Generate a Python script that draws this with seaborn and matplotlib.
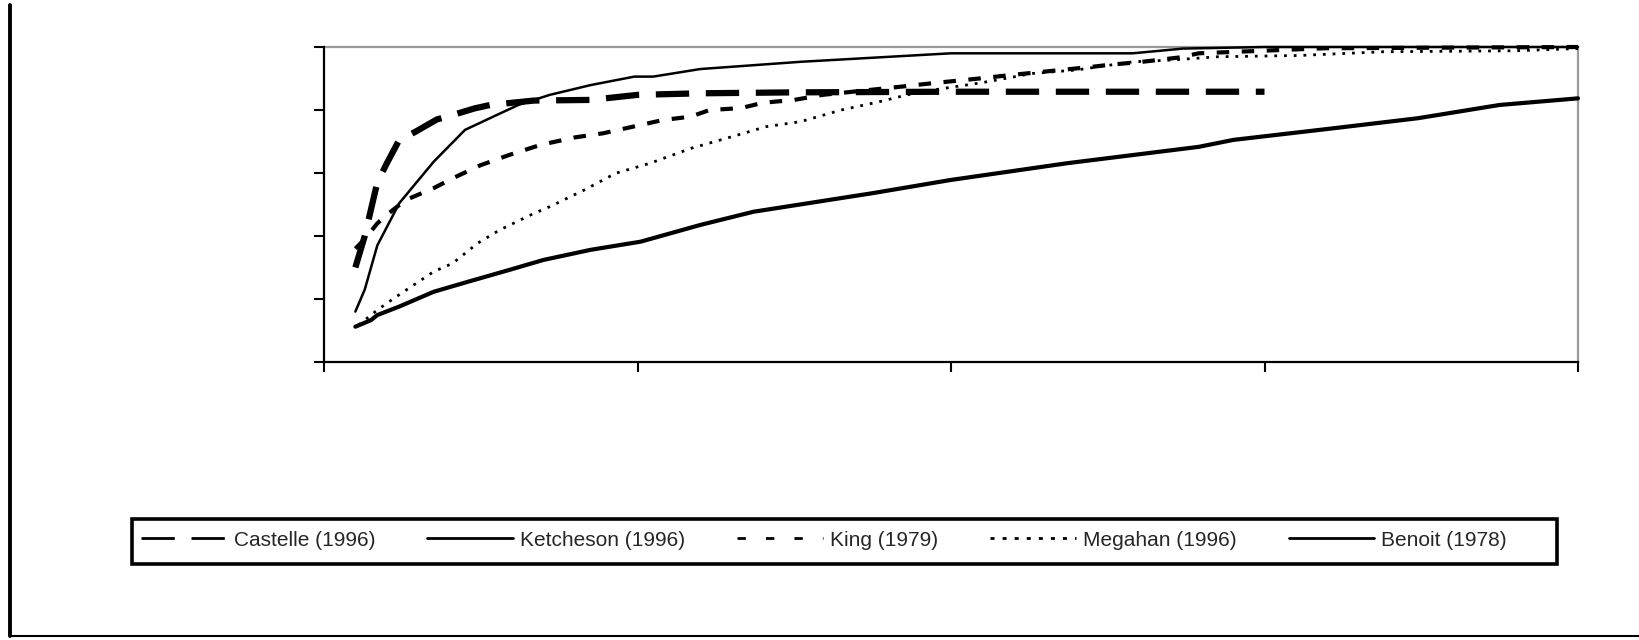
import matplotlib.pyplot as plt
from matplotlib.lines import Line2D
from matplotlib.patches import Rectangle
import pandas as pd
import seaborn as sns

# values (x: 0-40, y: 0-100, no tick labels shown)
castelle_x = [1.0, 1.3, 1.7, 2.0, 2.4, 2.9, 3.6, 4.1, 4.8, 5.3, 6.7, 8.5, 10.0, 12.0, 15.0, 20.0, 25.0, 30.0]
castelle_y = [30, 40, 57, 63, 70.5, 73, 77, 78.4, 80.5, 81.6, 83, 83.2, 84.8, 85.3, 85.6, 85.8, 85.8, 85.8]

ketcheson_x = [1.0, 1.3, 1.7, 2.4, 3.5, 4.5, 5.4, 6.2, 7.2, 8.5, 9.9, 10.5, 12.0, 15.2, 20.0, 25.8, 27.4, 30.0, 40.0]
ketcheson_y = [16, 23, 37, 50.4, 63.6, 73.7, 77.9, 81.6, 84.8, 87.9, 90.6, 90.6, 93, 95.3, 98, 98, 99.5, 100, 100]

king_x = [1.0, 1.3, 1.7, 2.0, 2.6, 3.5, 4.1, 5.0, 5.9, 6.9, 8.0, 8.9, 9.4, 10.8, 11.7, 12.3, 13.3, 14.0, 15.0,
          15.9, 18.4, 19.4, 20.9, 21.9, 22.6, 24.5, 25.0, 26.1, 27.3, 27.9, 31.9, 40.0]
king_y = [36, 39, 44, 46.7, 51.4, 55.2, 58.3, 62.5, 65.7, 68.9, 71.3, 72.6, 73.7, 76.8, 77.9, 80, 80.6, 82.3, 83.2,
          84.8, 87.4, 88.5, 90, 91.1, 91.8, 93.7, 94.3, 95.3, 96.7, 98, 99.6, 100]

megahan_x = [1.1, 1.7, 2.3, 3.5, 4.1, 4.9, 5.6, 6.7, 7.2, 8.3, 9.3, 10.4, 11.7, 13.0, 14.1, 15.2, 16.5, 17.7, 18.6,
             19.4, 21.0, 22.6, 24.0, 25.8, 27.1, 28.5, 31.1, 33.8, 38.0, 40.0]
megahan_y = [11.7, 16.5, 20.7, 28.7, 31.3, 37.7, 41.9, 47.2, 49.3, 54.6, 59.9, 63.1, 67.8, 71.5, 74.7, 76.3, 80, 82.6, 84.8,
             86.3, 88.7, 91.6, 92.7, 95.3, 95.9, 96.9, 97.3, 98.5, 98.8, 99.5]

benoit_x = [1.0, 1.5, 1.7, 2.4, 3.5, 4.6, 5.9, 7.0, 8.5, 10.1, 12.0, 13.7, 17.5, 20.0, 23.7, 25.8, 27.9, 29.0, 32.2,
            34.9, 37.5, 40.0]
benoit_y = [11.2, 13.3, 14.9, 17.6, 22.3, 25.5, 29.2, 32.4, 35.6, 38.2, 43.5, 47.7, 53.6, 57.8, 63.1, 65.7, 68.3, 70.5, 74.2,
            77.4, 81.6, 83.7]

labels = ["Castelle (1996)", "Ketcheson (1996)", "King (1979)", "Megahan (1996)", "Benoit (1978)"]
x_ticks = [0, 10, 20, 30, 40]
y_ticks = [0, 20, 40, 60, 80, 100]

sns.set_theme(style="white")
plt.rcParams["font.family"] = ["Liberation Sans", "DejaVu Sans"]
plt.rcParams["lines.scale_dashes"] = False

W, H = 1639, 640
fig = plt.figure(figsize=(W / 100, H / 100), dpi=100)
ax = fig.add_axes([324 / W, 1 - 362 / H, (1578 - 324) / W, (362 - 47) / H])

series = [
    (castelle_x, castelle_y, dict(lw=4.5, linestyle=(0, (24, 12)))),
    (ketcheson_x, ketcheson_y, dict(lw=1.8, linestyle="-")),
    (king_x, king_y, dict(lw=3.0, linestyle=(0, (9, 9)))),
    (megahan_x, megahan_y, dict(lw=2.0, linestyle=(0, (2, 5)))),
    (benoit_x, benoit_y, dict(lw=3.0, linestyle="-")),
]
for xs, ys, st in series:
    df = pd.DataFrame({"x": xs, "y": ys})
    sns.lineplot(data=df, x="x", y="y", ax=ax, color="black", estimator=None, sort=False,
                 clip_on=False, zorder=3, legend=False, **st)

ax.set_xlim(0, 40)
ax.set_ylim(0, 100)
ax.set_xticks(x_ticks)
ax.set_yticks(y_ticks)
ax.set_xlabel("")
ax.set_ylabel("")
ax.tick_params(direction="out", length=7, width=1.5, color="black",
               left=True, bottom=True, labelleft=False, labelbottom=False)
for side in ["left", "bottom"]:
    ax.spines[side].set_color("black")
    ax.spines[side].set_linewidth(1.6)
for side in ["top", "right"]:
    ax.spines[side].set_color("#999999")
    ax.spines[side].set_linewidth(1.6)
    ax.spines[side].set_zorder(1)

# legend (thin handles like the original)
handles = [
    Line2D([], [], color="black", lw=2, linestyle=(0, (24, 12))),
    Line2D([], [], color="black", lw=2, linestyle="-"),
    Line2D([], [], color="black", lw=2, linestyle=(0, (6, 14.5))),
    Line2D([], [], color="black", lw=2, linestyle=(0, (2.9, 5.8))),
    Line2D([], [], color="black", lw=2, linestyle="-"),
]
fig.legend(handles, labels, ncol=5, loc="center left", bbox_to_anchor=(141 / W, 1 - 540 / H),
           frameon=False, fontsize=15, handlelength=4.1, handletextpad=0.35,
           columnspacing=2.5, borderpad=0, borderaxespad=0)
fig.add_artist(Rectangle((132 / W, 1 - 563.5 / H), (1557 - 132) / W, (563.5 - 519) / H,
                         transform=fig.transFigure, fill=False, ec="black", lw=2.6))

# page border lines
fig.add_artist(Line2D([10 / W, 10 / W], [1 - 5 / H, 1 - 636 / H], transform=fig.transFigure,
                      color="black", lw=2.8))
fig.add_artist(Line2D([10 / W, 1], [1 - 636 / H, 1 - 636 / H], transform=fig.transFigure,
                      color="black", lw=1.5))

fig.savefig("out.png", dpi=100)
